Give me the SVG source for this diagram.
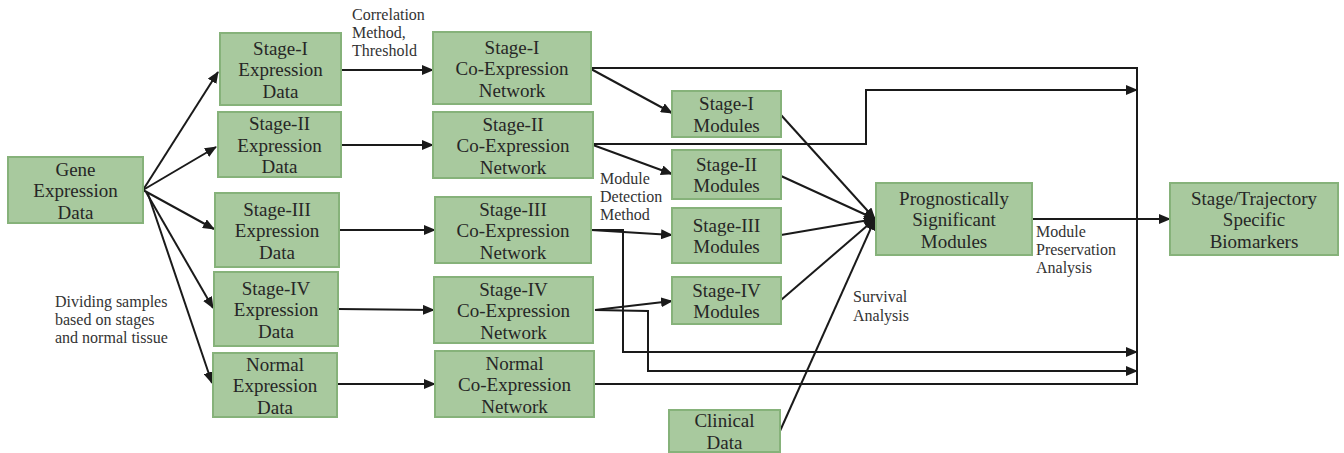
<svg xmlns="http://www.w3.org/2000/svg" width="1344" height="453" viewBox="0 0 1344 453">
<defs>
<marker id="ah" markerUnits="userSpaceOnUse" markerWidth="12" markerHeight="10" refX="11" refY="5" orient="auto">
<path d="M0,0 L12,5 L0,10 Z" fill="#1a1a1a"/>
</marker>
<style>
.box{fill:#a8c99e;stroke:#86b27a;stroke-width:2}
.bt{font-family:"Liberation Serif","Times New Roman",serif;font-size:19px;fill:#262626;text-anchor:middle}
.lb{font-family:"Liberation Serif","Times New Roman",serif;font-size:16px;fill:#333}
.c{fill:none;stroke:#1a1a1a;stroke-width:2}
.a{marker-end:url(#ah)}
</style>
</defs>
<rect width="1344" height="453" fill="#ffffff"/>

<g id="connectors">
<line class="c a" x1="143" y1="190" x2="218" y2="72"/>
<line class="c a" x1="143" y1="190" x2="216" y2="147"/>
<line class="c a" x1="143" y1="190" x2="214" y2="229"/>
<line class="c a" x1="146" y1="192" x2="213" y2="308"/>
<line class="c a" x1="148" y1="194" x2="212" y2="383"/>
<line class="c a" x1="341" y1="70" x2="433" y2="70"/>
<line class="c a" x1="341" y1="145" x2="433" y2="145"/>
<line class="c a" x1="339" y1="230" x2="435" y2="230"/>
<line class="c a" x1="338" y1="309" x2="434" y2="310"/>
<line class="c a" x1="337" y1="384" x2="435" y2="384"/>
<line class="c a" x1="591" y1="69" x2="672" y2="113"/>
<line class="c a" x1="593" y1="145" x2="672" y2="174"/>
<line class="c a" x1="591" y1="230" x2="672" y2="235"/>
<line class="c a" x1="595" y1="310" x2="672" y2="301"/>
<polyline class="c" points="591,68 1137,68 1137,384 594,384"/>
<polyline class="c a" points="593,144 866,144 866,90 1137,90"/>
<polyline class="c a" points="591,230 623,230 623,352 1137,352"/>
<polyline class="c a" points="595,310 648,311 648,371 1137,371"/>
<line class="c a" x1="781" y1="115" x2="875" y2="219"/>
<line class="c a" x1="781" y1="176" x2="875" y2="219"/>
<line class="c a" x1="781" y1="235" x2="875" y2="219"/>
<line class="c a" x1="781" y1="300" x2="875" y2="219"/>
<line class="c a" x1="780" y1="431" x2="875" y2="219"/>
<line class="c a" x1="1032" y1="219" x2="1170" y2="219"/>
</g>

<g id="labels">
<text class="lb" x="352" y="20">Correlation</text>
<text class="lb" x="352" y="38">Method,</text>
<text class="lb" x="352" y="56">Threshold</text>
<text class="lb" x="600" y="184">Module</text>
<text class="lb" x="600" y="202">Detection</text>
<text class="lb" x="600" y="220">Method</text>
<text class="lb" x="55" y="307">Dividing samples</text>
<text class="lb" x="55" y="325">based on stages</text>
<text class="lb" x="55" y="343">and normal tissue</text>
<text class="lb" x="853" y="302">Survival</text>
<text class="lb" x="853" y="321">Analysis</text>
<text class="lb" x="1036" y="237">Module</text>
<text class="lb" x="1036" y="255">Preservation</text>
<text class="lb" x="1036" y="273">Analysis</text>
</g>

<g id="gene">
<rect class="box" x="8" y="157" width="135" height="66"/>
<text class="bt" x="75.5" y="175.5">Gene</text>
<text class="bt" x="75.5" y="197">Expression</text>
<text class="bt" x="75.5" y="218.5">Data</text>
</g>

<g id="s1data">
<rect class="box" x="220" y="33" width="121" height="72"/>
<text class="bt" x="280.5" y="54.5">Stage-I</text>
<text class="bt" x="280.5" y="76">Expression</text>
<text class="bt" x="280.5" y="97.5">Data</text>
</g>
<g id="s2data">
<rect class="box" x="218" y="112" width="123" height="65"/>
<text class="bt" x="279.5" y="130">Stage-II</text>
<text class="bt" x="279.5" y="151.5">Expression</text>
<text class="bt" x="279.5" y="173">Data</text>
</g>
<g id="s3data">
<rect class="box" x="215" y="193" width="124" height="74"/>
<text class="bt" x="277" y="215.5">Stage-III</text>
<text class="bt" x="277" y="237">Expression</text>
<text class="bt" x="277" y="258.5">Data</text>
</g>
<g id="s4data">
<rect class="box" x="214" y="272" width="124" height="74"/>
<text class="bt" x="276" y="294.5">Stage-IV</text>
<text class="bt" x="276" y="316">Expression</text>
<text class="bt" x="276" y="337.5">Data</text>
</g>
<g id="ndata">
<rect class="box" x="213" y="353" width="124" height="64"/>
<text class="bt" x="275" y="370.5">Normal</text>
<text class="bt" x="275" y="392">Expression</text>
<text class="bt" x="275" y="413.5">Data</text>
</g>

<g id="s1net">
<rect class="box" x="433" y="32" width="158" height="72"/>
<text class="bt" x="512" y="53.5">Stage-I</text>
<text class="bt" x="512" y="75">Co-Expression</text>
<text class="bt" x="512" y="96.5">Network</text>
</g>
<g id="s2net">
<rect class="box" x="433" y="112" width="160" height="66"/>
<text class="bt" x="513" y="130.5">Stage-II</text>
<text class="bt" x="513" y="152">Co-Expression</text>
<text class="bt" x="513" y="173.5">Network</text>
</g>
<g id="s3net">
<rect class="box" x="435" y="197" width="156" height="66"/>
<text class="bt" x="513" y="215.5">Stage-III</text>
<text class="bt" x="513" y="237">Co-Expression</text>
<text class="bt" x="513" y="258.5">Network</text>
</g>
<g id="s4net">
<rect class="box" x="434" y="277" width="159" height="66"/>
<text class="bt" x="513.5" y="295.5">Stage-IV</text>
<text class="bt" x="513.5" y="317">Co-Expression</text>
<text class="bt" x="513.5" y="338.5">Network</text>
</g>
<g id="nnet">
<rect class="box" x="435" y="351" width="159" height="66"/>
<text class="bt" x="514.5" y="369.5">Normal</text>
<text class="bt" x="514.5" y="391">Co-Expression</text>
<text class="bt" x="514.5" y="412.5">Network</text>
</g>

<g id="s1mod">
<rect class="box" x="672" y="91" width="109" height="46"/>
<text class="bt" x="726.5" y="110.3">Stage-I</text>
<text class="bt" x="726.5" y="131.8">Modules</text>
</g>
<g id="s2mod">
<rect class="box" x="672" y="150" width="109" height="49"/>
<text class="bt" x="726.5" y="170.8">Stage-II</text>
<text class="bt" x="726.5" y="192.3">Modules</text>
</g>
<g id="s3mod">
<rect class="box" x="672" y="208" width="109" height="55"/>
<text class="bt" x="726.5" y="231.8">Stage-III</text>
<text class="bt" x="726.5" y="253.3">Modules</text>
</g>
<g id="s4mod">
<rect class="box" x="672" y="277" width="109" height="47"/>
<text class="bt" x="726.5" y="296.8">Stage-IV</text>
<text class="bt" x="726.5" y="318.3">Modules</text>
</g>
<g id="clinical">
<rect class="box" x="669" y="410" width="111" height="42"/>
<text class="bt" x="724.5" y="427">Clinical</text>
<text class="bt" x="724.5" y="448.5">Data</text>
</g>

<g id="prog">
<rect class="box" x="876" y="183" width="156" height="72"/>
<text class="bt" x="954" y="204.5">Prognostically</text>
<text class="bt" x="954" y="226">Significant</text>
<text class="bt" x="954" y="247.5">Modules</text>
</g>
<g id="bio">
<rect class="box" x="1170" y="183" width="168" height="72"/>
<text class="bt" x="1254" y="204.5">Stage/Trajectory</text>
<text class="bt" x="1254" y="226">Specific</text>
<text class="bt" x="1254" y="247.5">Biomarkers</text>
</g>
</svg>
